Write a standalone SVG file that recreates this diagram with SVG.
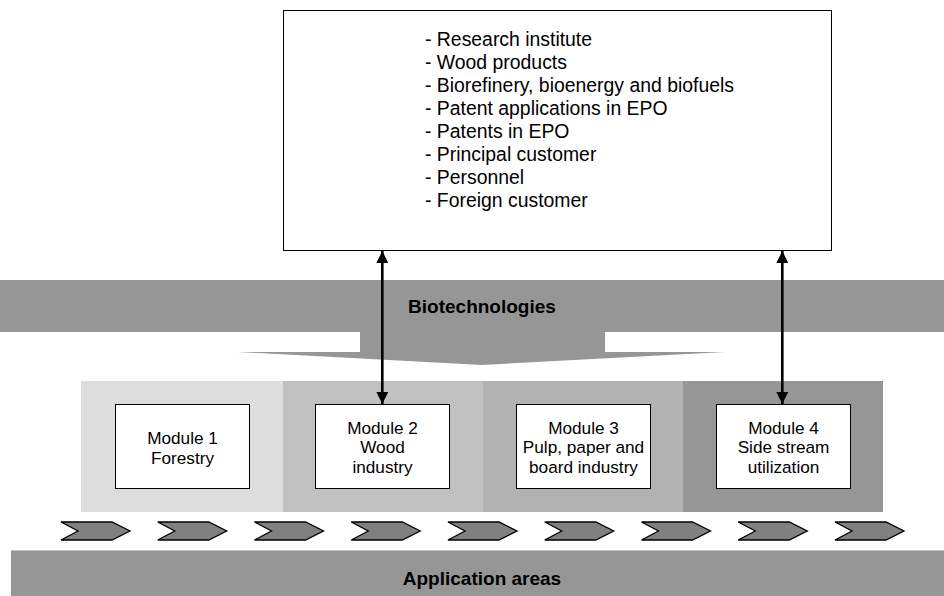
<svg xmlns="http://www.w3.org/2000/svg" width="944" height="596" viewBox="0 0 944 596">
<style>
text{font-family:"Liberation Sans",Arial,sans-serif;fill:#000}
.lst{font-size:19.4px}
.mod{font-size:17.2px;text-anchor:middle}
.band{font-size:19px;font-weight:bold;text-anchor:middle}
.box{fill:#fff;stroke:#000;stroke-width:1}
.chev{fill:#808080;stroke:#000;stroke-width:1.3;stroke-linejoin:miter}
.conn{stroke:#000;stroke-width:2.6;fill:none}
</style>
<defs>
<marker id="ah" markerUnits="userSpaceOnUse" markerWidth="12" markerHeight="12" viewBox="0 0 12 12" refX="12" refY="6" orient="auto-start-reverse">
<path d="M0,0 L12,6 L0,12 Z" fill="#000"/>
</marker>
<path id="chevron" d="M0,0 H51 L69,9 L51,18 H0 L17,9 Z"/>
</defs>
<rect width="944" height="596" fill="#fff"/>
<g id="biotechnologies">
<path d="M0,280 H944 V332 H605 V352 H725 L482,365 L238,352 H360 V332 H0 Z" fill="#969696"/>
<text class="band" x="482" y="313">Biotechnologies</text>
</g>
<g id="application-areas">
<rect x="11" y="550" width="933" height="46" fill="#969696"/>
<line x1="11" y1="550.5" x2="944" y2="550.5" stroke="#c4c4c4" stroke-width="1"/>
<text class="band" x="482" y="585">Application areas</text>
</g>
<g id="modules-panel">
<rect x="81" y="381" width="202" height="131" fill="#dddddd"/>
<rect x="283" y="381" width="200" height="131" fill="#c0c0c0"/>
<rect x="483" y="381" width="200" height="131" fill="#b2b2b2"/>
<rect x="683" y="381" width="200" height="131" fill="#969696"/>
</g>
<g id="chevrons">
<use href="#chevron" class="chev" x="61" y="522"/>
<use href="#chevron" class="chev" x="157.75" y="522"/>
<use href="#chevron" class="chev" x="254.5" y="522"/>
<use href="#chevron" class="chev" x="351.25" y="522"/>
<use href="#chevron" class="chev" x="448" y="522"/>
<use href="#chevron" class="chev" x="544.75" y="522"/>
<use href="#chevron" class="chev" x="641.5" y="522"/>
<use href="#chevron" class="chev" x="738.25" y="522"/>
<use href="#chevron" class="chev" x="835" y="522"/>
</g>
<g id="info-box">
<rect class="box" x="283.5" y="10.5" width="548" height="240"/>
<text class="lst" x="425" y="45.7">- Research institute</text>
<text class="lst" x="425" y="68.8">- Wood products</text>
<text class="lst" x="425" y="91.9">- Biorefinery, bioenergy and biofuels</text>
<text class="lst" x="425" y="115">- Patent applications in EPO</text>
<text class="lst" x="425" y="138.1">- Patents in EPO</text>
<text class="lst" x="425" y="161.2">- Principal customer</text>
<text class="lst" x="425" y="184.3">- Personnel</text>
<text class="lst" x="425" y="207.4">- Foreign customer</text>
</g>
<g id="module-1">
<rect class="box" x="115.5" y="404.5" width="134" height="84"/>
<text class="mod" x="182.5" y="444">Module 1</text>
<text class="mod" x="182.5" y="463.5">Forestry</text>
</g>
<g id="module-2">
<rect class="box" x="315.5" y="404.5" width="134" height="84"/>
<text class="mod" x="382.5" y="433.5">Module 2</text>
<text class="mod" x="382.5" y="453">Wood</text>
<text class="mod" x="382.5" y="472.5">industry</text>
</g>
<g id="module-3">
<rect class="box" x="516.5" y="404.5" width="134" height="84"/>
<text class="mod" x="583.5" y="433.5">Module 3</text>
<text class="mod" x="583.5" y="453">Pulp, paper and</text>
<text class="mod" x="583.5" y="472.5">board industry</text>
</g>
<g id="module-4">
<rect class="box" x="716.5" y="404.5" width="134" height="84"/>
<text class="mod" x="783.5" y="433.5">Module 4</text>
<text class="mod" x="783.5" y="453">Side stream</text>
<text class="mod" x="783.5" y="472.5">utilization</text>
</g>
<g id="connectors">
<line class="conn" x1="382.3" y1="251" x2="382.3" y2="404" marker-start="url(#ah)" marker-end="url(#ah)"/>
<line class="conn" x1="782.3" y1="251" x2="782.3" y2="404" marker-start="url(#ah)" marker-end="url(#ah)"/>
</g>
</svg>
